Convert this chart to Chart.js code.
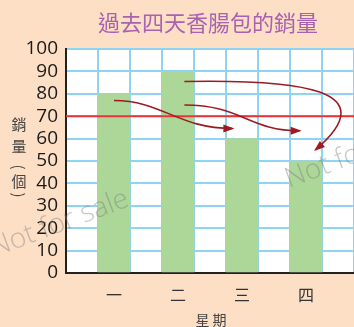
<!DOCTYPE html>
<html>
<head>
<meta charset="utf-8">
<script src="https://cdn.jsdelivr.net/npm/chart.js@4.4.1/dist/chart.umd.min.js"></script>
<style>
  html, body { margin: 0; padding: 0; background: #fddfc6; }
  #wrap { width: 354px; height: 327px; position: relative; }
</style>
</head>
<body>
<div id="wrap"><canvas id="myChart" width="354" height="327"></canvas></div>
<script>
// data
const days = ["一", "二", "三", "四"];
const sales = [80, 90, 60, 50];
const average = 70;
const yTicks = [0, 10, 20, 30, 40, 50, 60, 70, 80, 90, 100];

// arrows: [x (column index), y (value)] ...  start, control points, end
const arrows = [
    [[1.0, 77], [2.5, 77], [3.0, 64.5], [4.7, 64.5]],
    [[3.2, 75], [5.0, 75], [5.2, 63.5], [6.8, 63.5]],
    [[3.2, 85.5], [6.8, 86.5], [9.5, 82], [7.3, 55]],
];

// 9 columns: empty, 一, empty, 二, ...
const labels = [];
const values = [];
days.forEach((d, i) => {
    labels.push("");
    values.push(null);
    labels.push(d);
    values.push(sales[i]);
});
labels.push("");
values.push(null);

const ctx = document.getElementById("myChart").getContext("2d");

const extras = {
    id: "extras",
    afterDatasetsDraw(chart) {
        const c = chart.ctx;
        const x = chart.scales.x, y = chart.scales.y;
        const area = chart.chartArea;
        // average line
        c.save();
        c.strokeStyle = "#e8343a";
        c.lineWidth = 2;
        c.beginPath();
        c.moveTo(area.left, y.getPixelForValue(average));
        c.lineTo(area.right, y.getPixelForValue(average));
        c.stroke();

        // arrows
        c.strokeStyle = "#9e1a22";
        c.fillStyle = "#9e1a22";
        c.lineWidth = 1.6;
        arrows.forEach(a => {
            const p = a.map(q => [x.getPixelForValue(q[0]), y.getPixelForValue(q[1])]);
            c.beginPath();
            c.moveTo(p[0][0], p[0][1]);
            c.bezierCurveTo(p[1][0], p[1][1], p[2][0], p[2][1], p[3][0], p[3][1]);
            c.stroke();
            const ang = Math.atan2(p[3][1] - p[2][1], p[3][0] - p[2][0]);
            const L = 9, W = 4;
            c.beginPath();
            c.moveTo(p[3][0] + Math.cos(ang) * 2, p[3][1] + Math.sin(ang) * 2);
            c.lineTo(p[3][0] - Math.cos(ang) * L + Math.sin(ang) * W, p[3][1] - Math.sin(ang) * L - Math.cos(ang) * W);
            c.lineTo(p[3][0] - Math.cos(ang) * L - Math.sin(ang) * W, p[3][1] - Math.sin(ang) * L + Math.cos(ang) * W);
            c.closePath();
            c.fill();
        });
        c.restore();
    },
    afterDraw(chart) {
        const c = chart.ctx;
        c.save();
        // title
        c.fillStyle = "#a962b0";
        c.font = "22px 'Noto Sans CJK TC'";
        c.textAlign = "center";
        c.textBaseline = "middle";
        c.fillText("過去四天香腸包的銷量", 208, 23);

        // y title, vertical
        c.fillStyle = "#444";
        c.font = "15px 'Noto Sans CJK TC'";
        c.fillText("銷", 19, 124);
        c.fillText("量", 19, 146);
        c.fillText("個", 19, 181);
        [["(", 167], [")", 195]].forEach(([ch, py]) => {
            c.save();
            c.translate(19, py);
            c.rotate(Math.PI / 2);
            c.fillText(ch, 0, 0);
            c.restore();
        });

        // x title
        c.font = "14px 'Noto Sans CJK TC'";
        c.fillText("星 期", 211, 320);

        // watermark
        c.fillStyle = "rgba(120,120,120,0.42)";
        c.font = "300 28px 'Open Sans'";
        c.textAlign = "left";
        c.textBaseline = "alphabetic";
        c.translate(-6, 257);
        c.rotate(-0.36);
        c.fillText("Not for sale", 0, 0);
        c.restore();
        c.save();
        c.fillStyle = "rgba(120,120,120,0.42)";
        c.font = "300 28px 'Open Sans'";
        c.translate(289, 188);
        c.rotate(-0.36);
        c.fillText("Not for sale", 0, 0);
        c.restore();
    }
};

const bgPlugin = {
    id: "bg",
    beforeDraw(chart) {
        const c = chart.ctx, a = chart.chartArea;
        c.save();
        c.fillStyle = "#ffffff";
        c.fillRect(a.left, a.top, a.right - a.left, a.bottom - a.top);
        c.restore();
    }
};

new Chart(ctx, {
    type: "bar",
    data: {
        labels: labels,
        datasets: [{
            data: values,
            backgroundColor: "#add699",
            borderWidth: 0,
            barPercentage: 1,
            categoryPercentage: 1,
        }],
    },
    options: {
        responsive: false,
        animation: false,
        layout: { padding: { top: 49, left: 0, right: 0, bottom: 0 } },
        plugins: {
            legend: { display: false },
            tooltip: { enabled: false },
        },
        scales: {
            x: {
                offset: true,
                grid: { offset: true, color: "#8fd4f2", lineWidth: 2, drawTicks: false },
                border: { color: "#222", width: 2 },
                ticks: {
                    color: "#333",
                    font: { family: "'Noto Sans CJK TC'", size: 16 },
                    padding: 12,
                    maxRotation: 0,
                    autoSkip: false,
                },
                afterFit(s) { s.height = 54; },
            },
            y: {
                min: 0,
                max: 100,
                afterBuildTicks(s) { s.ticks = yTicks.map(v => ({ value: v })); },
                grid: { color: "#8fd4f2", lineWidth: 2, drawTicks: false },
                border: { color: "#222", width: 2 },
                ticks: {
                    color: "#1a1a1a",
                    font: { family: "'Open Sans'", size: 19, weight: "500" },
                    padding: 8,
                    autoSkip: false,
                },
                afterFit(s) { s.width = 66; },
            },
        },
    },
    plugins: [bgPlugin, extras],
});
</script>
</body>
</html>
